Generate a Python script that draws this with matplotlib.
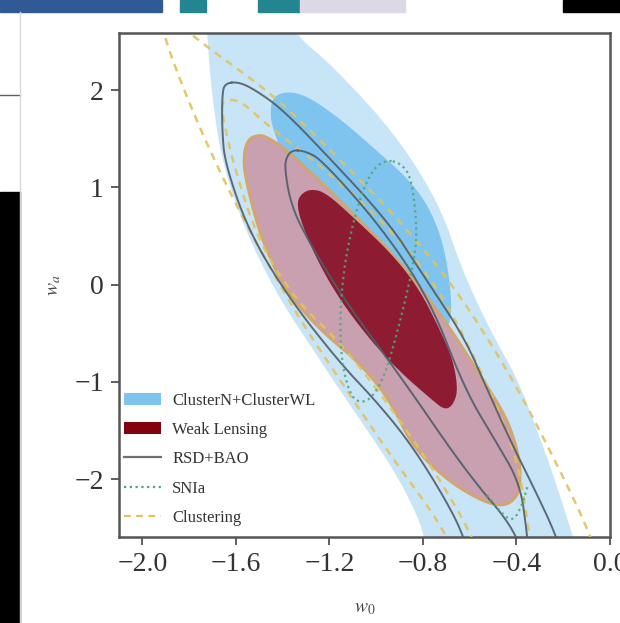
import numpy as np
import matplotlib
matplotlib.use('Agg')
import matplotlib.pyplot as plt
from matplotlib.patches import Polygon, Patch, Rectangle
from matplotlib.lines import Line2D

plt.rcParams['font.family'] = ['Liberation Serif', 'DejaVu Serif']
plt.rcParams['mathtext.fontset'] = 'stix'

# ---------------- data (w0, wa) contour vertices ----------------
# ClusterN+ClusterWL 2-sigma (light blue)
clwl_2s_w0 = [-1.724, -1.326, -1.356, -1.198, -0.920, -0.727, -0.633, -0.513, -0.393, -0.312, -0.235, -0.158, -0.128,
              -0.813, -0.783, -0.898, -1.039, -1.185, -1.232, -1.420, -1.561, -1.659, -1.702, -1.724]
clwl_2s_wa = [2.771, 2.771, 2.586, 2.277, 1.558, 0.818, 0.150, -0.467, -0.980, -1.494, -2.008, -2.594, -2.830,
              -2.830, -2.594, -2.008, -1.494, -0.980, -0.806, -0.127, 0.561, 1.250, 1.928, 2.586]
# ClusterN+ClusterWL 1-sigma (medium blue)
clwl_1s_w0 = [-1.424, -1.326, -1.185, -1.014, -0.825, -0.727, -0.684, -0.676, -0.727, -0.984, -1.326, -1.446, -1.454]
clwl_1s_wa = [1.969, 1.979, 1.764, 1.414, 1.003, 0.561, 0.047, -0.364, -0.621, -0.056, 0.972, 1.589, 1.846]
# Weak Lensing 2-sigma
wl_2s_w0 = [-1.505, -1.467, -1.381, -1.112, -0.898, -0.706, -0.543, -0.436, -0.385, -0.385, -0.419, -0.470,
            -0.556, -0.697, -0.843, -0.941, -1.069, -1.240, -1.390, -1.488, -1.540, -1.570, -1.553]
wl_2s_wa = [1.538, 1.517, 1.383, 0.767, 0.232, -0.364, -0.980, -1.392, -1.803, -2.111, -2.234, -2.275,
            -2.214, -2.008, -1.669, -1.186, -0.806, -0.467, -0.056, 0.458, 0.900, 1.250, 1.486]
# Weak Lensing 1-sigma
wl_1s_w0 = [-1.326, -1.283, -1.219, -1.099, -0.928, -0.813, -0.727, -0.671, -0.650, -0.671, -0.706, -0.761,
            -0.898, -1.026, -1.155, -1.249, -1.317, -1.339]
wl_1s_wa = [0.921, 0.983, 0.952, 0.695, 0.304, -0.056, -0.467, -0.775, -1.083, -1.237, -1.289, -1.186,
            -0.898, -0.569, -0.158, 0.232, 0.613, 0.818]
# RSD+BAO 2-sigma
rsd_2s_w0 = [-1.647, -1.582, -1.497, -1.399, -1.240, -0.954, -0.813, -0.671, -0.599, -0.543, -0.428, -0.321, -0.227,
             -0.192, -0.590, -0.629, -0.727, -0.864, -1.005, -1.155, -1.377, -1.548, -1.647, -1.659, -1.659]
rsd_2s_wa = [2.072, 2.082, 1.969, 1.794, 1.404, 0.664, 0.150, -0.364, -0.672, -0.980, -1.597, -2.111, -2.594,
             -2.933, -2.933, -2.553, -2.111, -1.597, -1.186, -0.806, -0.127, 0.561, 1.250, 1.589, 1.949]
# RSD+BAO 1-sigma
rsd_1s_w0 = [-1.360, -1.304, -1.232, -0.975, -0.770, -0.620, -0.492, -0.385, -0.355, -0.342,
             -0.376, -0.393, -0.612, -0.885, -1.146, -1.317, -1.369, -1.390, -1.386]
rsd_1s_wa = [1.383, 1.373, 1.281, 0.582, -0.158, -1.083, -1.597, -2.039, -2.553, -2.933,
             -2.933, -2.553, -1.936, -0.980, -0.127, 0.561, 0.869, 1.178, 1.301]
# SNIa 1-sigma
sn_1s_w0 = [-0.954, -0.898, -0.855, -0.834, -0.825, -0.855, -0.907, -0.962, -1.018, -1.069, -1.112,
            -1.150, -1.155, -1.133, -1.091, -1.048, -1.005]
sn_1s_wa = [1.281, 1.250, 1.126, 0.818, 0.458, 0.047, -0.467, -0.929, -1.166, -1.217, -1.135,
            -0.775, -0.261, 0.253, 0.715, 1.024, 1.209]
# SNIa 2-sigma (visible lower part)
sn_2s_w0 = [-0.526, -0.470, -0.415, -0.376, -0.351]
sn_2s_wa = [-2.162, -2.337, -2.440, -2.265, -2.060]
# Clustering 2-sigma
clu_2s_w0 = [-1.860, -1.783, -1.467, -1.283, -1.112, -0.954, -0.757, -0.599, -0.415, -0.257, -0.085, -0.043,
             -0.641, -0.714, -0.941, -1.155, -1.326, -1.553, -1.754, -1.916, -1.903]
clu_2s_wa = [2.740, 2.545, 2.000, 1.589, 1.178, 0.798, 0.253, -0.261, -0.980, -1.700, -2.553, -2.933,
             -2.933, -2.491, -1.751, -0.980, -0.364, 0.592, 1.589, 2.586, 2.719]
# Clustering 1-sigma
clu_1s_w0 = [-1.659, -1.582, -1.467, -1.240, -0.954, -0.727, -0.543, -0.406, -0.351, -0.334,
             -0.547, -0.586, -0.727, -0.898, -1.142, -1.347, -1.505, -1.604, -1.659]
clu_1s_wa = [1.897, 1.897, 1.640, 1.229, 0.613, -0.056, -0.929, -1.700, -2.419, -2.933,
             -2.933, -2.594, -2.008, -1.392, -0.621, -0.158, 0.458, 1.178, 1.743]

x_ticks = [-2.0, -1.6, -1.2, -0.8, -0.4, 0.0]
y_ticks = [-2, -1, 0, 1, 2]
legend_labels = ['ClusterN+ClusterWL', 'Weak Lensing', 'RSD+BAO', 'SNIa', 'Clustering']

# ---------------- styling ----------------
c_lightblue = '#c8e5f8'
c_midblue = '#7fc4ee'
c_pink = '#c8a0b0'
c_tan = '#d3a56f'
c_darkred = '#8d1c33'
c_legred = '#85000f'
c_grey = '#4f5d68'
c_green = '#4fa777'
c_yellow = '#e2c25e'


def chaikin(x, y, n=3, closed=True):
    pts = np.column_stack([x, y]).astype(float)
    for _ in range(n):
        if closed:
            p0 = pts
            p1 = np.roll(pts, -1, axis=0)
            q = 0.75 * p0 + 0.25 * p1
            r = 0.25 * p0 + 0.75 * p1
            pts = np.empty((2 * len(p0), 2))
            pts[0::2] = q
            pts[1::2] = r
        else:
            p0 = pts[:-1]
            p1 = pts[1:]
            q = 0.75 * p0 + 0.25 * p1
            r = 0.25 * p0 + 0.75 * p1
            mid = np.empty((2 * len(p0), 2))
            mid[0::2] = q
            mid[1::2] = r
            pts = np.vstack([pts[:1], mid, pts[-1:]])
    return pts


fig = plt.figure(figsize=(6.2, 6.23), dpi=100)

# background clutter of the photographed slide
W, H = 620.0, 623.0
def rect(x0, y0, x1, y1, color):
    fig.add_artist(Rectangle((x0 / W, 1 - y1 / H), (x1 - x0) / W, (y1 - y0) / H,
                             transform=fig.transFigure, color=color, zorder=-10))
rect(0, 0, 162, 12, '#2f5a94')
rect(180, 0, 206, 12, '#23858f')
rect(258, 0, 300, 12, '#23858f')
rect(300, 0, 405, 12, '#dcd8e8')
rect(563, 0, 620, 12, '#000000')
rect(0, 192, 20, 623, '#000000')
fig.add_artist(Line2D([0, 20 / W], [1 - 95 / H, 1 - 95 / H], transform=fig.transFigure,
                      color='#606060', lw=1.0))
fig.add_artist(Line2D([20 / W, 20 / W], [0, 1 - 12 / H], transform=fig.transFigure,
                      color='#d8d8d8', lw=1.0))

ax = fig.add_axes([119 / W, 1 - 537 / H, (610 - 119) / W, (537 - 33) / H])
ax.set_xlim(-2.1, 0.0)
ax.set_ylim(-2.594, 2.586)

fills = [
    (clwl_2s_w0, clwl_2s_wa, c_lightblue, 'none', 0, 1),
    (clwl_1s_w0, clwl_1s_wa, c_midblue, 'none', 0, 2),
    (wl_2s_w0, wl_2s_wa, c_pink, c_tan, 2.2, 3),
    (wl_1s_w0, wl_1s_wa, c_darkred, 'none', 0, 4),
]
for xs, ys, fc, ec, lw, z in fills:
    pts = chaikin(xs, ys)
    ax.add_patch(Polygon(pts, closed=True, facecolor=fc, edgecolor=ec, lw=lw, zorder=z))

lines = [
    (clu_2s_w0, clu_2s_wa, c_yellow, (0, (3, 2.5)), 1.8, True),
    (clu_1s_w0, clu_1s_wa, c_yellow, (0, (3, 2.5)), 1.8, True),
    (rsd_2s_w0, rsd_2s_wa, c_grey, '-', 1.4, True),
    (rsd_1s_w0, rsd_1s_wa, c_grey, '-', 1.4, True),
    (sn_1s_w0, sn_1s_wa, c_green, (0, (1, 1.6)), 1.6, True),
    (sn_2s_w0, sn_2s_wa, c_green, (0, (1, 1.6)), 1.6, False),
]
for xs, ys, col, ls, lw, closed in lines:
    pts = chaikin(xs, ys, closed=closed)
    if closed:
        pts = np.vstack([pts, pts[:1]])
    ax.plot(pts[:, 0], pts[:, 1], color=col, ls=ls, lw=lw, zorder=6, alpha=0.9)

ax.set_xticks(x_ticks)
ax.set_yticks(y_ticks)
ax.set_xticklabels([f'{v:.1f}'.replace('-', '\u2212') for v in x_ticks])
ax.set_yticklabels([f'{v:d}'.replace('-', '\u2212') for v in y_ticks])
ax.tick_params(direction='out', length=6, width=1.2, colors='#444444', labelsize=20,
               labelcolor='#333333')
ax.tick_params(axis='x', pad=5)
ax.tick_params(axis='y', pad=5)
for s in ax.spines.values():
    s.set_color('#555555')
    s.set_linewidth(1.8)

ax.set_xlabel(r'$w_0$', fontsize=14, color='#444444', labelpad=16)
ax.set_ylabel(r'$w_a$', fontsize=14, color='#444444', labelpad=8)

handles = [
    Patch(facecolor=c_midblue, edgecolor='none'),
    Patch(facecolor=c_legred, edgecolor='none'),
    Line2D([], [], color='#707070', lw=1.6),
    Line2D([], [], color=c_green, lw=1.6, ls=(0, (1, 1.6))),
    Line2D([], [], color=c_yellow, lw=1.6, ls=(0, (3, 2.5))),
]
leg = ax.legend(handles, legend_labels, loc='lower left', bbox_to_anchor=(0.0, 0.012),
                frameon=False, fontsize=12,
                handlelength=2.2, handleheight=0.7, handletextpad=0.7, labelspacing=0.8,
                borderaxespad=0.1, borderpad=0.2)
for t in leg.get_texts():
    t.set_color('#333333')
leg.set_zorder(10)

fig.savefig('out.png', dpi=100, facecolor='white')
